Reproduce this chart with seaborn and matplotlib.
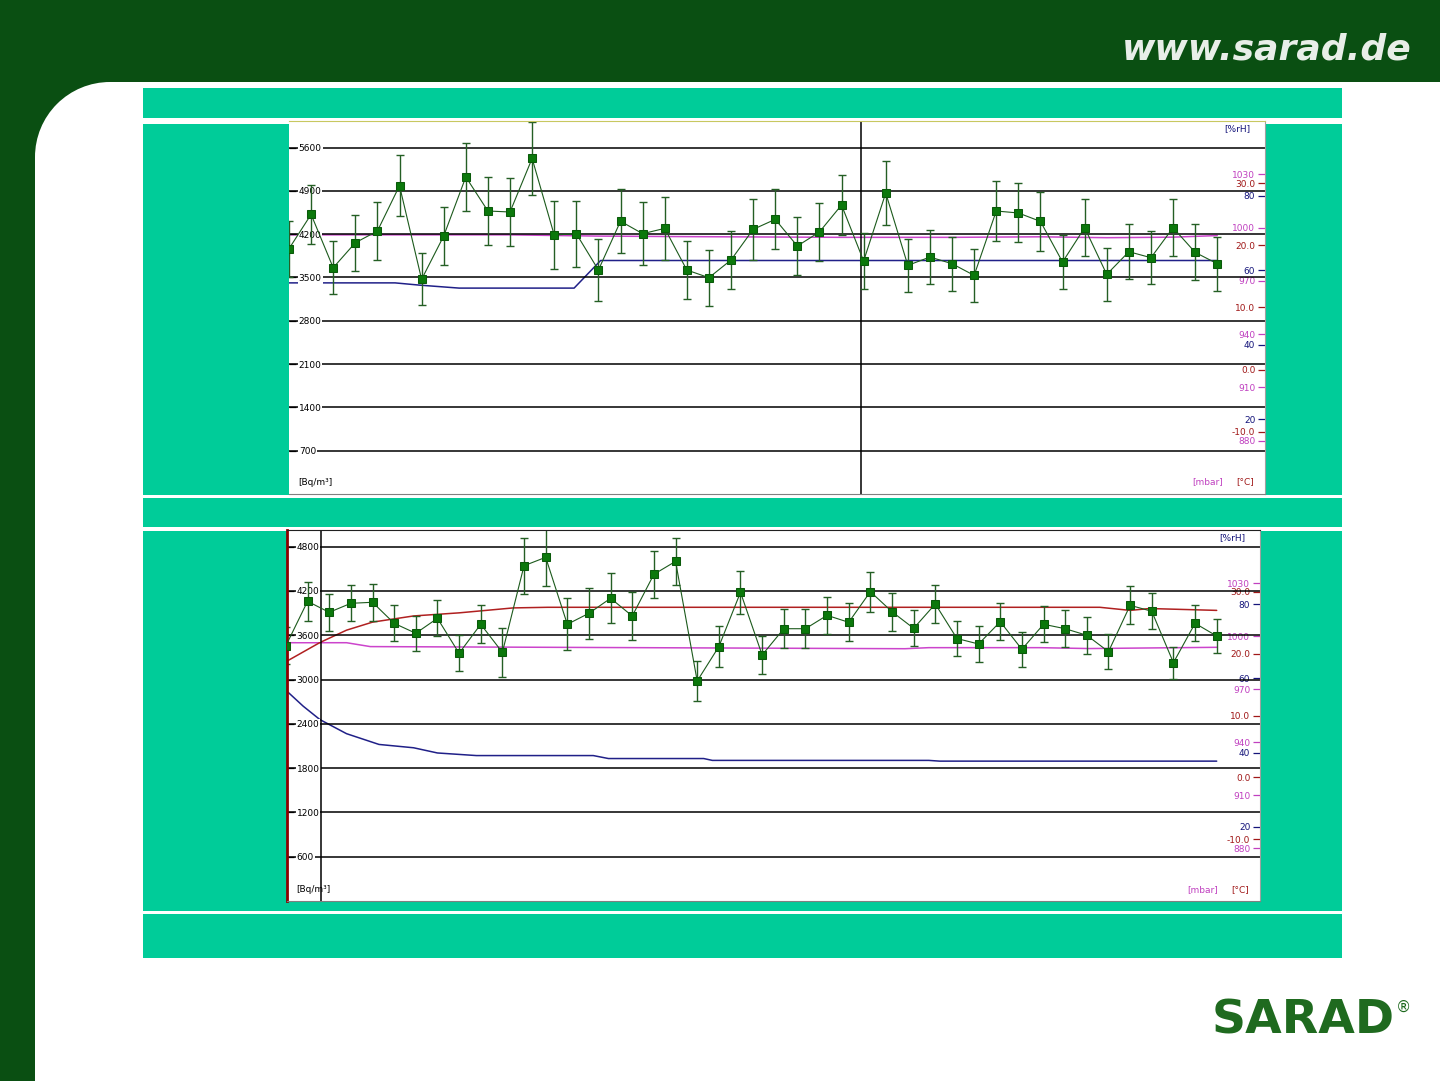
import matplotlib
matplotlib.use("Agg")
import matplotlib.pyplot as plt
from matplotlib.patches import Rectangle, Circle
import seaborn as sns
import pandas as pd

sns.set_style("white")
plt.rcParams['font.family'] = ['DejaVu Sans']

# --- Messreihe 1 (oben): Radon [Bq/m3] mit Fehlerbalken ---
radon1 = [3965, 4520, 3658, 4062, 4251, 4984, 3470, 4171, 5125, 4575,
          4559, 5425, 4187, 4208, 3621, 4410, 4208, 4294, 3621, 3497,
          3783, 4278, 4440, 4009, 4236, 4672, 3767, 4866, 3696, 3831,
          3723, 3534, 4575, 4543, 4407, 3750, 4305, 3550, 3917, 3820,
          4305, 3906, 3723]
err1 = [450, 474, 431, 453, 463, 493, 418, 463, 544, 550,
        555, 593, 542, 531, 507, 517, 509, 504, 463, 453,
        463, 488, 485, 461, 474, 493, 445, 512, 431, 442,
        437, 431, 477, 477, 480, 431, 461, 426, 445, 428,
        461, 453, 437]
# Feuchte [%rH] und Druck [mbar]
hum1_x = [0, 4.8, 5.9, 7.7, 12.9, 14.1, 42]
hum1 = [56.6, 56.6, 56.0, 55.2, 55.2, 62.6, 62.6]
pres1_x = [0, 10, 14, 18, 25, 30, 34, 37, 40, 42]
pres1 = [995.9, 995.9, 995.2, 994.9, 994.5, 994.5, 994.8, 994.3, 994.6, 995.5]
vline1 = 25.88

# --- Messreihe 2 (unten) ---
radon2 = [3458, 4059, 3910, 4032, 4046, 3761, 3626, 3829, 3355, 3748,
          3368, 4541, 4655, 3748, 3897, 4100, 3860, 4425, 4600, 2980,
          3445, 4181, 3332, 3688, 3688, 3869, 3775, 4190, 3918, 3693,
          4023, 3555, 3481, 3783, 3409, 3748, 3688, 3599, 3377, 4005,
          3924, 3228, 3761, 3589]
err2 = [250, 266, 251, 244, 253, 244, 237, 246, 244, 260,
        334, 379, 395, 354, 348, 339, 320, 320, 320, 266,
        282, 289, 260, 264, 264, 255, 260, 271, 260, 244,
        255, 242, 246, 253, 239, 244, 248, 251, 237, 255,
        244, 219, 246, 235]
temp2_x = [0, 1.57, 2.8, 4.0, 5.9, 8.0, 10.5, 12.1, 37.6, 39.0, 39.9, 43]
temp2 = [18.7, 21.8, 23.8, 25.1, 26.1, 26.6, 27.4, 27.5, 27.5, 27.0, 27.3, 27.0]
pres2_x = [0, 2.8, 3.9, 28.6, 29.7, 34.8, 37.1, 43]
pres2 = [996.2, 996.2, 994.0, 992.8, 993.4, 993.4, 992.9, 993.6]
hum2_x = [0, 0.8, 1.57, 2.8, 4.3, 5.9, 7.0, 8.8, 14.2, 14.9, 19.3, 19.7, 29.7, 30.2, 43]
hum2 = [56.8, 52.5, 48.9, 45.1, 42.2, 41.3, 39.9, 39.2, 39.2, 38.4, 38.4, 37.9, 37.9, 37.7, 37.7]
vline2 = 1.6

# Achsenbeschriftungen
left_ticks1 = [700, 1400, 2100, 2800, 3500, 4200, 4900, 5600]
left_ticks2 = [600, 1200, 1800, 2400, 3000, 3600, 4200, 4800]
pres_ticks = [880, 910, 940, 970, 1000, 1030]
temp_ticks = [-10, 0, 10, 20, 30]
temp_labels = ['-10.0', '0.0', '10.0', '20.0', '30.0']
hum_ticks = [20, 40, 60, 80]

GREEN_DARK = '#0a4f12'
TEAL = '#00cc99'
C_PRES = '#c040c0'
C_TEMP = '#a01818'
C_HUM = '#14147a'

fig = plt.figure(figsize=(14.4, 10.81), dpi=100)

# Hintergrund der Folie
bg = fig.add_axes([0, 0, 1, 1], zorder=0)
bg.set_xlim(0, 1440)
bg.set_ylim(1081, 0)
bg.axis('off')
bg.add_patch(Rectangle((0, 0), 1440, 82, color=GREEN_DARK, lw=0))
bg.add_patch(Rectangle((0, 0), 35, 1081, color=GREEN_DARK, lw=0))
bg.add_patch(Rectangle((35, 82), 75, 75, color=GREEN_DARK, lw=0))
bg.add_patch(Circle((110, 157), 75, color='white', lw=0))
for y0, h in [(88, 30), (124, 371), (498, 29), (531, 380), (914, 44)]:
    bg.add_patch(Rectangle((143, y0), 1199, h, color=TEAL, lw=0))
bg.text(1267, 50, 'www.sarad.de', color='#e8eee8', fontsize=26,
        fontweight='bold', style='italic', ha='center', va='center')
bg.text(1303, 1021, 'SARAD', color='#1f6a1f', fontsize=34,
        fontweight='heavy', ha='center', va='center')
bg.text(1403, 1007, '®', color='#1f6a1f', fontsize=11, ha='center', va='center')


def panel(rect, radon, err, vline, xmax, left_ticks, ymax, lines, left_color, top_color):
    ax = fig.add_axes(rect)
    n = len(radon)
    # Hintergrundachse (weiss) fuer Umgebungsgroessen
    tw_h = ax.twinx()
    tw_p = ax.twinx()
    tw_t = ax.twinx()
    tw_h.patch.set_visible(True)
    tw_h.patch.set_facecolor('white')
    for z, tw in zip([1, 1.1, 1.2], [tw_h, tw_p, tw_t]):
        tw.set_zorder(z)
        for s in tw.spines.values():
            s.set_visible(False)
    ax.set_zorder(3)
    ax.patch.set_visible(False)

    for tw, key, color in [(tw_h, 'hum', '#202088'), (tw_p, 'pres', '#cc44cc'),
                           (tw_t, 'temp', '#b02020')]:
        if key in lines:
            xs, ys = lines[key]
            sns.lineplot(x=xs, y=ys, ax=tw, color=color, linewidth=1.1)

    for tw, lim, ticks, labels, color in [
            (tw_h, (0, 100), hum_ticks, [str(t) for t in hum_ticks], C_HUM),
            (tw_p, (850, 1060), pres_ticks, [str(t) for t in pres_ticks], C_PRES),
            (tw_t, (-20, 40), temp_ticks, temp_labels, C_TEMP)]:
        tw.set_ylim(*lim)
        tw.set_yticks(ticks)
        tw.set_yticklabels(labels)
        tw.set_ylabel('')
        tw.tick_params(axis='y', direction='in', length=5, width=0.9,
                       pad=-7, labelsize=6.5, colors=color)
        for lb in tw.get_yticklabels():
            lb.set_horizontalalignment('right')

    df = pd.DataFrame({'idx': range(n), 'radon': radon, 'err': err})
    ax.errorbar(df['idx'], df['radon'], yerr=df['err'], fmt='none',
                ecolor='#245f24', elinewidth=1.0, capsize=3, capthick=1.0, zorder=2)
    sns.lineplot(data=df, x='idx', y='radon', ax=ax, color='#1c5a1c',
                 linewidth=0.8, marker='s', markersize=6,
                 markerfacecolor='#0b780b', markeredgecolor='#0a5a0a', zorder=3)
    ax.axvline(vline, color='black', linewidth=1.1, zorder=1)

    ax.set_ylim(0, ymax)
    ax.set_xlim(*xmax)
    ax.set_xticks([])
    ax.set_xlabel('')
    ax.set_ylabel('')
    ax.set_yticks(left_ticks)
    ax.set_yticklabels([str(t) for t in left_ticks])
    ax.yaxis.grid(True, color='black', linewidth=1.1)
    ax.xaxis.grid(False)
    ax.set_axisbelow(True)
    ax.tick_params(axis='y', direction='in', length=5, width=0.9, pad=-7,
                   labelsize=6.5, colors='black', left=True)
    for lb in ax.get_yticklabels():
        lb.set_horizontalalignment('left')
        lb.set_bbox(dict(facecolor='white', edgecolor='none', pad=0.6))

    ax.spines['top'].set_color(top_color)
    ax.spines['bottom'].set_color('#808080')
    ax.spines['right'].set_color('#a0a0a0')
    ax.spines['left'].set_color(left_color)
    ax.spines['left'].set_linewidth(2 if left_color != 'none' else 0)

    ax.text(0.972, 0.979, '[%rH]', transform=ax.transAxes, color=C_HUM,
            fontsize=6.5, ha='center', va='center')
    ax.text(0.009, 0.032, '[Bq/m³]', transform=ax.transAxes, color='black',
            fontsize=6.5, ha='left', va='center')
    ax.text(0.941, 0.032, '[mbar]', transform=ax.transAxes, color=C_PRES,
            fontsize=6.5, ha='center', va='center')
    ax.text(0.980, 0.032, '[°C]', transform=ax.transAxes, color=C_TEMP,
            fontsize=6.5, ha='center', va='center')
    return ax


panel([289 / 1440, 1 - 494 / 1081, 976 / 1440, 373 / 1081],
      radon1, err1, vline1, (0, 44.16), left_ticks1, 6030,
      {'hum': (hum1_x, hum1), 'pres': (pres1_x, pres1)}, 'none', '#c8c860')

panel([287 / 1440, 1 - 901 / 1081, 973 / 1440, 371 / 1081],
      radon2, err2, vline2, (0.05, 45.0), left_ticks2, 5025,
      {'hum': (hum2_x, hum2), 'pres': (pres2_x, pres2), 'temp': (temp2_x, temp2)},
      '#8b0000', '#202020')

fig.savefig('out.png', dpi=100, facecolor='white')
